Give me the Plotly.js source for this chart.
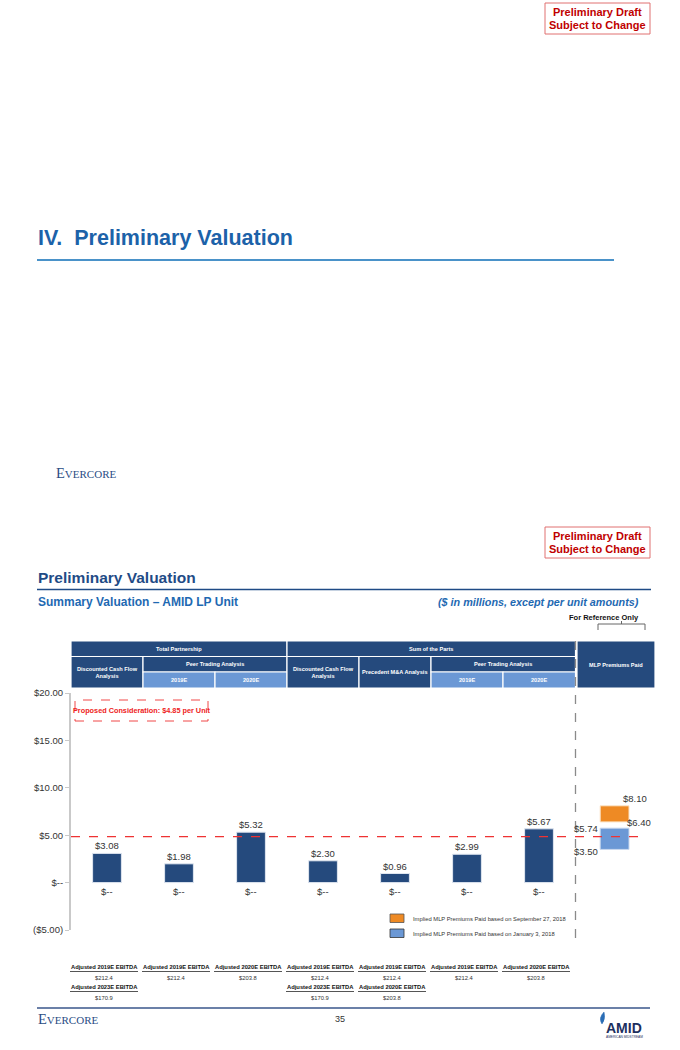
<!DOCTYPE html>
<html><head><meta charset="utf-8">
<script src="https://cdn.plot.ly/plotly-3.0.1.min.js"></script>
<style>html,body{margin:0;padding:0;background:#fff;}#chart{width:680px;height:1050px;}</style>
</head><body><div id="chart"></div>
<script>
// ---------------- data ----------------
const methodologies = ["DCF (Total Partnership)","Peer Trading 2019E","Peer Trading 2020E","DCF (Sum of the Parts)","Precedent M&A","Peer Trading 2019E (SOTP)","Peer Trading 2020E (SOTP)"];
const lowValues  = [0, 0, 0, 0, 0, 0, 0];
const highValues = [3.08, 1.98, 5.32, 2.30, 0.96, 2.99, 5.67];
const lowLabels  = ["$--","$--","$--","$--","$--","$--","$--"];
const premiumSeries = ["Implied MLP Premiums Paid based on September 27, 2018","Implied MLP Premiums Paid based on January 3, 2018"];
const premiumLow  = [6.40, 3.50];
const premiumHigh = [8.10, 5.74];
const proposedConsideration = 4.85;
const yTickVals = [20, 15, 10, 5, 0, -5];
const yTickText = ["$20.00","$15.00","$10.00","$5.00","$--","($5.00)"];
const ebitdaRow1Labels = ["Adjusted 2019E EBITDA","Adjusted 2019E EBITDA","Adjusted 2020E EBITDA","Adjusted 2019E EBITDA","Adjusted 2019E EBITDA","Adjusted 2019E EBITDA","Adjusted 2020E EBITDA"];
const ebitdaRow1Values = ["$212.4","$212.4","$203.8","$212.4","$212.4","$212.4","$203.8"];
const ebitdaRow2Labels = ["Adjusted 2023E EBITDA","","","Adjusted 2023E EBITDA","Adjusted 2020E EBITDA","",""];
const ebitdaRow2Values = ["$170.9","","","$170.9","$203.8","",""];

// ---------------- geometry helpers ----------------
const L=71, R=655, T=693, B=930;
const px = p => (p-L)/(R-L);
const py = p => (B-p)/(B-T);
const FONT = "Liberation Sans, Arial, sans-serif";
const SERIF = "Liberation Serif, DejaVu Serif, serif";
const NAVY = "#254a7d", LIGHT = "#6b98d5", ORANGE = "#ee8a24";

const xs = methodologies.map((_,i)=>i);
const premX = 7.05;

const traces = [
  {type:"bar", x:xs, y:highValues.map((h,i)=>h-lowValues[i]), base:lowValues, width:0.4,
   marker:{color:NAVY, line:{color:"#dfe6f0", width:1}}, hoverinfo:"skip", showlegend:false},
  {type:"bar", x:[premX], y:[premiumHigh[1]-premiumLow[1]], base:[premiumLow[1]], width:0.4,
   marker:{color:LIGHT, line:{color:"#c9d8ee", width:1}}, hoverinfo:"skip", showlegend:false},
  {type:"bar", x:[premX], y:[premiumHigh[0]-premiumLow[0]], base:[premiumLow[0]], width:0.4,
   marker:{color:ORANGE, line:{color:"#fbe3c6", width:1}}, hoverinfo:"skip", showlegend:false}
];

const shapes = [];
const ann = [];
function rect(x0,y0,x1,y1,fill,line,lw,dash){shapes.push({type:"rect",xref:"paper",yref:"paper",x0:px(x0),x1:px(x1),y0:py(y1),y1:py(y0),fillcolor:fill||"rgba(0,0,0,0)",line:{color:line||"rgba(0,0,0,0)",width:lw||0,dash:dash||"solid"},layer:"above"});}
function line(x0,y0,x1,y1,color,w,dash){shapes.push({type:"line",xref:"paper",yref:"paper",x0:px(x0),x1:px(x1),y0:py(y0),y1:py(y1),line:{color:color,width:w,dash:dash||"solid"},layer:"above"});}
function txt(x,y,t,size,color,opts){opts=opts||{};ann.push(Object.assign({xref:"paper",yref:"paper",x:px(x),y:py(y),text:t,showarrow:false,xanchor:"left",yanchor:"middle",font:{family:FONT,size:size,color:color}},opts));}
function evercore(x,y){ann.push({xref:"paper",yref:"paper",x:px(x),y:py(y),text:"E<span style='font-size:11px'>VERCORE</span>",showarrow:false,xanchor:"left",yanchor:"middle",font:{family:SERIF,size:14.5,color:"#2b4d84"}});}

// ---------- page 1 ----------
rect(545,3,650,34,"#fff","#e07070",1);
txt(597.5,12,"<b>Preliminary Draft</b>",11,"#c00000",{xanchor:"center"});
txt(597.5,25,"<b>Subject to Change</b>",11,"#c00000",{xanchor:"center"});
txt(36,238,"<b>IV.  Preliminary Valuation</b>",21.5,"#1c62a9");
line(37,260,614,260,"#4a92c9",2);
evercore(54,473);

// ---------- page 2 header ----------
rect(545,527,650,558,"#fff","#e07070",1);
txt(597.5,536,"<b>Preliminary Draft</b>",11,"#c00000",{xanchor:"center"});
txt(597.5,549,"<b>Subject to Change</b>",11,"#c00000",{xanchor:"center"});
txt(36,577,"<b>Preliminary Valuation</b>",15.5,"#1f4b86");
line(37,589.5,651,589.5,"#1f4b86",1.5);
txt(36,602,"<b>Summary Valuation – AMID LP Unit</b>",12,"#1e69b2");
txt(641,602,"<b><i>($ in millions, except per unit amounts)</i></b>",10.8,"#1e69b2",{xanchor:"right"});
txt(641,617,"<b>For Reference Only</b>",7.5,"#111",{xanchor:"right"});
// bracket
line(598,630,598,624,"#666",1); line(598,624,645,624,"#666",1); line(645,624,645,630,"#666",1); line(621.5,624,621.5,621,"#666",1);

// ---------- table header ----------
const W="#ffffff";
function cell(x0,y0,x1,y1,fill,t){rect(x0,y0,x1,y1,fill,"#fff",1.2);txt((x0+x1)/2,(y0+y1)/2,"<b>"+t+"</b>",5.6,W,{xanchor:"center"});}
cell(71,641,287,656.5,NAVY,"Total Partnership");
cell(287,641,575.5,656.5,NAVY,"Sum of the Parts");
cell(577,641,655,688,NAVY,"MLP Premiums Paid");
cell(71,656.5,143,688,NAVY,"Discounted Cash Flow<br>Analysis");
cell(143,656.5,287,672,NAVY,"Peer Trading Analysis");
cell(143,672,215,688,LIGHT,"2019E");
cell(215,672,287,688,LIGHT,"2020E");
cell(287,656.5,359,688,NAVY,"Discounted Cash Flow<br>Analysis");
cell(359,656.5,431,688,NAVY,"Precedent M&A Analysis");
cell(431,656.5,575.5,672,NAVY,"Peer Trading Analysis");
cell(431,672,503,688,LIGHT,"2019E");
cell(503,672,575.5,688,LIGHT,"2020E");

// vertical separator
line(575.5,641,575.5,947,"#8a8a8a",1.3,"dash");

// proposed consideration
shapes.push({type:"line",xref:"paper",yref:"y",x0:0,x1:px(646),y0:proposedConsideration,y1:proposedConsideration,line:{color:"#ee3333",width:1.2,dash:"dash"},layer:"above"});
rect(75,700,208,721,"rgba(0,0,0,0)","#ee3333",0.9,"dash");
txt(141.5,710.5,"<b>Proposed Consideration: $"+proposedConsideration.toFixed(2)+" per Unit</b>",7.3,"#ee2222",{xanchor:"center"});

// bar labels
xs.forEach(i=>{
  ann.push({x:i,y:highValues[i],xref:"x",yref:"y",text:"$"+highValues[i].toFixed(2),showarrow:false,yanchor:"bottom",yshift:0,font:{family:FONT,size:9.5,color:"#333"}});
  ann.push({x:i,y:lowValues[i],xref:"x",yref:"y",text:lowLabels[i],showarrow:false,yanchor:"top",yshift:-1,font:{family:FONT,size:9.5,color:"#333"}});
});
// premium labels
ann.push({x:premX,y:premiumHigh[0],xref:"x",yref:"y",text:"$"+premiumHigh[0].toFixed(2),showarrow:false,xanchor:"left",yanchor:"bottom",xshift:6,yshift:0,font:{family:FONT,size:9.5,color:"#333"}});
ann.push({x:premX,y:premiumLow[0],xref:"x",yref:"y",text:"$"+premiumLow[0].toFixed(2),showarrow:false,xanchor:"left",yanchor:"middle",xshift:10,yshift:-1,font:{family:FONT,size:9.5,color:"#333"}});
ann.push({x:premX,y:premiumHigh[1],xref:"x",yref:"y",text:"$"+premiumHigh[1].toFixed(2),showarrow:false,xanchor:"right",yanchor:"middle",xshift:-15,yshift:0,font:{family:FONT,size:9.5,color:"#333"}});
ann.push({x:premX,y:premiumLow[1],xref:"x",yref:"y",text:"$"+premiumLow[1].toFixed(2),showarrow:false,xanchor:"right",yanchor:"middle",xshift:-15,yshift:-2,font:{family:FONT,size:9.5,color:"#333"}});

// legend
rect(390,914,404,922.5,ORANGE,"#555",0.8);
txt(411,918.5,premiumSeries[0],5.8,"#333");
rect(390,929,404,937.5,LIGHT,"#333",0.8);
txt(411,933.5,premiumSeries[1],5.8,"#333");

// EBITDA footnotes
const colC = xs.map(i=>L+36+72*i-3);
colC.forEach((c,i)=>{
  txt(c,967,"<b>"+ebitdaRow1Labels[i]+"</b>",5.8,"#111",{xanchor:"center"});
  line(c-34,971.5,c+34,971.5,"#555",1);
  txt(c,977.5,ebitdaRow1Values[i],5.8,"#333",{xanchor:"center"});
  if(ebitdaRow2Labels[i]){
    txt(c,987,"<b>"+ebitdaRow2Labels[i]+"</b>",5.8,"#111",{xanchor:"center"});
    line(c-34,991.5,c+34,991.5,"#555",1);
    txt(c,998,ebitdaRow2Values[i],5.8,"#333",{xanchor:"center"});
  }
});

// footer
line(37,1008,650,1008,"#6b80a8",2);
evercore(36,1019);
txt(340,1019,"35",9,"#333",{xanchor:"center"});
txt(624,1028,"<b>AMID</b>",14,"#1d2f5e",{xanchor:"center"});
txt(624,1037,"AMERICAN MIDSTREAM",3.2,"#1d2f5e",{xanchor:"center"});
shapes.push({type:"path",xref:"paper",yref:"paper",path:"M"+px(604)+","+py(1012)+" Q"+px(598)+","+py(1018)+" "+px(602)+","+py(1024)+" Q"+px(606)+","+py(1019)+" "+px(604)+","+py(1012)+" Z",fillcolor:"#2a6db5",line:{color:"#2a6db5",width:0.5},layer:"above"});

const layout = {
  width:680, height:1050,
  margin:{l:L, r:680-R, t:T, b:1050-B, pad:0},
  paper_bgcolor:"#fff", plot_bgcolor:"#fff",
  showlegend:false, barmode:"overlay",
  xaxis:{range:[-0.5,(R-L)/72-0.5], visible:false, fixedrange:true},
  yaxis:{range:[-5,20], tickvals:yTickVals, ticktext:yTickText, showgrid:false, zeroline:false,
         showline:true, linecolor:"#c9c9c9", linewidth:2, ticks:"outside", ticklen:4, tickcolor:"#c9c9c9",
         tickfont:{family:FONT,size:9.5,color:"#333"}, fixedrange:true},
  shapes:shapes, annotations:ann
};
Plotly.newPlot("chart", traces, layout, {staticPlot:true, displayModeBar:false});
</script></body></html>
